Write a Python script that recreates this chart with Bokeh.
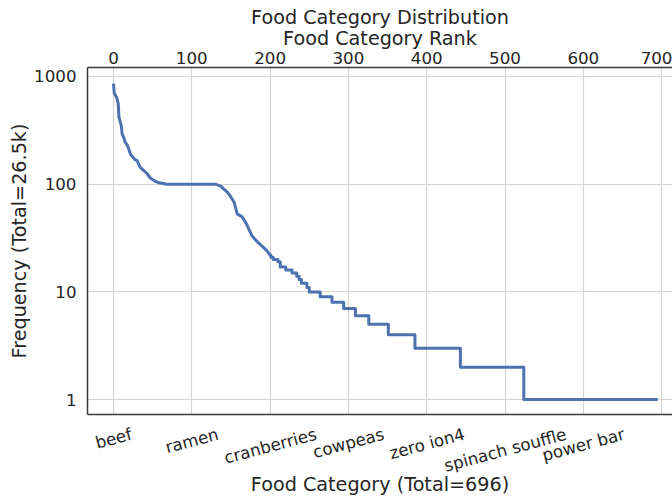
import math
from bokeh.plotting import figure
from bokeh.models import (Range1d, LinearAxis, FixedTicker, PrintfTickFormatter, CustomJSTickFormatter)
from bokeh.embed import file_html
from bokeh.resources import INLINE

# ---------------- data ----------------
# smooth head of the sorted frequency curve (rank, frequency)
head_rank = [0, 1, 4, 6, 7, 10, 11, 13, 15, 18, 22, 28, 30, 34, 39, 43, 47, 52, 58, 62, 68,
             130, 137, 141, 145, 149, 154, 158, 164, 169, 173, 177, 184, 190, 196, 200]
head_freq = [860, 700, 641, 560, 418, 350, 293, 272, 245, 228, 188, 168, 166, 144, 133, 125, 114, 108, 103, 102, 100,
             100, 96, 90, 85, 78, 68, 53, 50, 44, 38, 33, 29, 26.5, 24, 22]
# integer-count tail: first rank at which each frequency level starts
step_start = [201, 204, 210, 213, 220, 228, 234, 237, 240, 247, 250, 264, 279, 294, 309, 326, 351, 385, 443, 524]
step_freq = [21, 20, 19, 17, 16, 15, 14, 13, 12, 11, 10, 9, 8, 7, 6, 5, 4, 3, 2, 1]
last_rank = 695

rank_ticks = [0, 100, 200, 300, 400, 500, 600, 700]
freq_ticks = [1, 10, 100, 1000]
cat_labels = ["beef", "ramen", "cranberries", "cowpeas", "zero ion4", "spinach souffle", "power bar"]
cat_ranks = [0, 100, 200, 300, 400, 500, 600]

title_text = "Food Category Distribution"
top_label = "Food Category Rank"
bottom_label = "Food Category (Total=696)"
left_label = "Frequency (Total=26.5k)"

# ---------------- style ----------------
FONT = "DejaVu Sans"
TXT = "#262626"
SPINE = "#3a3a3a"
GRID = "#d4d4d4"
LINE = "#4C72B0"
TICK_FS = 16.7
LAB_FS = 19.2
CAT_FS = 16.7
ANG = 15.0

W, H = 672, 499
FL, FT, FB = 87, 67, 414
X0, X1 = -33.2, 713.9
PX_PER_RANK = (W - FL) / (X1 - X0)

# DejaVu Sans advance widths (1/2048 em) for label width estimation
ADV = {"b": 1300, "e": 1260, "f": 721, "r": 842, "a": 1255, "m": 1995, "n": 1298, "c": 1126,
       "i": 569, "s": 1067, "o": 1253, "w": 1675, "p": 1300, "z": 1075, "4": 1303, "h": 1298,
       "u": 1298, "l": 569, " ": 651}


def text_w(s, fs):
    return sum(ADV.get(ch, 1200) for ch in s) / 2048.0 * fs


# ---------------- build line path ----------------
xs = list(head_rank)
ys = list(head_freq)
prev = head_freq[-1]
for s, f in zip(step_start, step_freq):
    xs += [s, s]
    ys += [prev, f]
    prev = f
xs.append(last_rank)
ys.append(prev)

p = figure(width=W, height=H,
           x_range=Range1d(X0, X1), y_range=Range1d(0.727, 1212),
           y_axis_type="log", x_axis_location="above",
           output_backend="svg", toolbar_location=None,
           title=title_text,
           min_border_left=FL, min_border_right=0, min_border_top=FT, min_border_bottom=H - FB)

p.outline_line_color = None
p.background_fill_color = "white"
p.border_fill_color = "white"

p.title.text_font = FONT
p.title.text_font_size = f"{LAB_FS}px"
p.title.text_font_style = "normal"
p.title.text_color = TXT
p.title.align = "center"
p.title.standoff = -11

# top axis (rank)
xa = p.xaxis[0]
xa.ticker = FixedTicker(ticks=rank_ticks, minor_ticks=[])
xa.axis_label = top_label
xa.axis_label_text_font = FONT
xa.axis_label_text_font_size = f"{LAB_FS}px"
xa.axis_label_text_font_style = "normal"
xa.axis_label_text_color = TXT
xa.axis_label_standoff = -1
xa.major_label_text_font = FONT
xa.major_label_text_font_size = f"{TICK_FS}px"
xa.major_label_text_color = TXT
xa.major_label_standoff = 4
xa.major_tick_out = 0
xa.major_tick_in = 0
xa.minor_tick_line_color = None
xa.axis_line_color = SPINE
xa.axis_line_width = 1.5

# left axis (log frequency)
ya = p.yaxis[0]
ya.ticker = FixedTicker(ticks=freq_ticks, minor_ticks=[])
ya.formatter = PrintfTickFormatter(format="%d")
ya.axis_label = left_label
ya.axis_label_text_font = FONT
ya.axis_label_text_font_size = f"{LAB_FS}px"
ya.axis_label_text_font_style = "normal"
ya.axis_label_text_color = TXT
ya.axis_label_standoff = 0
ya.major_label_text_font = FONT
ya.major_label_text_font_size = f"{TICK_FS}px"
ya.major_label_text_color = TXT
ya.major_label_standoff = 11
ya.major_tick_out = 0
ya.major_tick_in = 0
ya.minor_tick_line_color = None
ya.axis_line_color = SPINE
ya.axis_line_width = 1.5

p.xgrid.grid_line_color = GRID
p.xgrid.grid_line_width = 1.2
p.ygrid.grid_line_color = GRID
p.ygrid.grid_line_width = 1.2

# bottom axis (categories at ranks 0, 100, ...). Bokeh anchors slanted labels at
# their right end, so shift each tick by half the label's slanted width to centre it.
cos_a = math.cos(math.radians(ANG))
cat_ticks = [r + (text_w(lab, CAT_FS) / 2.0 * cos_a) / PX_PER_RANK
             for r, lab in zip(cat_ranks, cat_labels)]
ba = LinearAxis(ticker=FixedTicker(ticks=cat_ticks, minor_ticks=[]))
ba.formatter = CustomJSTickFormatter(args=dict(labels=cat_labels), code="return labels[index];")
ba.major_label_orientation = math.radians(ANG)
ba.major_label_text_font = FONT
ba.major_label_text_font_size = f"{CAT_FS}px"
ba.major_label_text_color = TXT
ba.major_label_standoff = 19
ba.axis_label = bottom_label
ba.axis_label_text_font = FONT
ba.axis_label_text_font_size = f"{LAB_FS}px"
ba.axis_label_text_font_style = "normal"
ba.axis_label_text_color = TXT
ba.axis_label_standoff = -15
ba.major_tick_out = 0
ba.major_tick_in = 0
ba.major_tick_line_color = None
ba.minor_tick_line_color = None
ba.axis_line_color = SPINE
ba.axis_line_width = 1.5
p.add_layout(ba, "below")

p.line(xs, ys, line_color=LINE, line_width=3, line_join="round")

open("out.html", "w").write(file_html(p, INLINE))
